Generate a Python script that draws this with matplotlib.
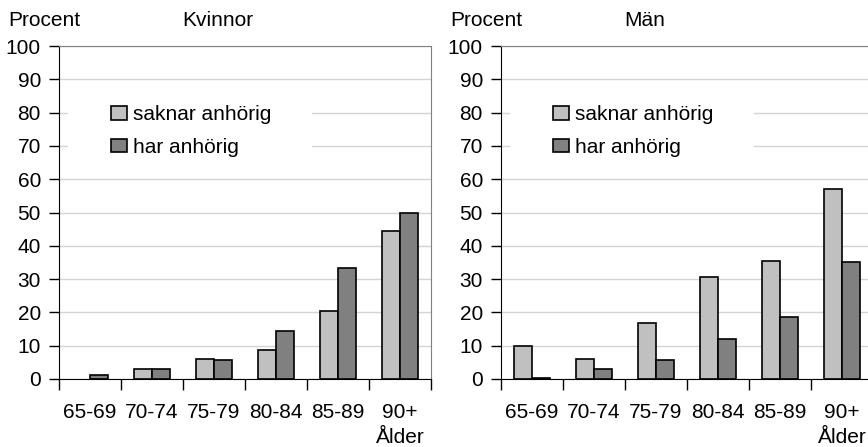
import matplotlib
matplotlib.use('Agg')
import matplotlib.pyplot as plt
from matplotlib.patches import Rectangle
import numpy as np

plt.rcParams['font.family'] = ['Liberation Sans', 'DejaVu Sans']

ages = ['65-69', '70-74', '75-79', '80-84', '85-89', '90+']
kvinnor_saknar = [0, 3.1, 6.1, 8.8, 20.4, 44.3]
kvinnor_har = [1.3, 3.1, 5.7, 14.5, 33.2, 50.0]
man_saknar = [10.0, 6.0, 16.8, 30.5, 35.3, 57.0]
man_har = [0.4, 3.0, 5.7, 11.9, 18.5, 35.0]
series_names = ['saknar anhörig', 'har anhörig']
titles = ['Kvinnor', 'Män']

fs = 15
light = '#c0c0c0'
dark = '#808080'
W, H = 868, 447

fig = plt.figure(figsize=(W / 100, H / 100), dpi=100)
bottom = (H - 379) / H
height = 333 / H
axes = [fig.add_axes([59 / W, bottom, 372 / W, height]),
        fig.add_axes([501 / W, bottom, 372 / W, height])]

data = [(kvinnor_saknar, kvinnor_har), (man_saknar, man_har)]
x = np.arange(len(ages))
bw = 0.29

for ax, (s, h), title in zip(axes, data, titles):
    # bars with value 0 get no outline, as in the original
    lw_s = [1.2 if v > 0 else 0 for v in s]
    lw_h = [1.2 if v > 0 else 0 for v in h]
    ax.bar(x - bw / 2, s, bw, color=light, edgecolor='black', linewidth=lw_s,
           label=series_names[0], zorder=2)
    ax.bar(x + bw / 2, h, bw, color=dark, edgecolor='black', linewidth=lw_h,
           label=series_names[1], zorder=2)
    ax.set_xlim(-0.5, len(ages) - 0.5)
    ax.set_ylim(0, 100)
    ax.set_yticks(range(0, 101, 10))
    ax.tick_params(axis='y', labelsize=fs, length=7, width=1, pad=6,
                   direction='out')
    ax.set_axisbelow(True)
    ax.yaxis.grid(True, color='#d4d4d4', linewidth=1)

    ax.set_xticks(np.arange(-0.5, len(ages)), [''] * (len(ages) + 1))
    ax.set_xticks(x, ages, minor=True)
    ax.tick_params(axis='x', which='major', length=8, width=1, direction='out')
    ax.tick_params(axis='x', which='minor', length=0, labelsize=fs, pad=17)

    ax.spines['left'].set_color('black')
    ax.spines['bottom'].set_color('black')
    ax.spines['top'].set_color('#808080')
    ax.spines['right'].set_color('#808080')

    ax.text(5, -0.193, 'Ålder', transform=ax.get_xaxis_transform(),
            ha='center', va='baseline', fontsize=fs)
    ax.text(-0.137, 1.078, 'Procent', transform=ax.transAxes,
            ha='left', va='center', fontsize=fs)
    ax.text(0.331, 1.078, title, transform=ax.transAxes,
            ha='left', va='center', fontsize=fs)

    ax.add_patch(Rectangle((0.024, 0.62), 0.656, 0.26, transform=ax.transAxes,
                           facecolor='white', edgecolor='none', zorder=1))
    leg = ax.legend(loc='upper left', bbox_to_anchor=(0.14, 0.822),
                    frameon=False, fontsize=fs, borderpad=0, borderaxespad=0,
                    handlelength=0.75, handleheight=0.65, handletextpad=0.3,
                    labelspacing=0.65)
    for p in leg.get_patches():
        p.set_linewidth(1.2)
        p.set_edgecolor('black')

fig.savefig('out.png', dpi=100)
